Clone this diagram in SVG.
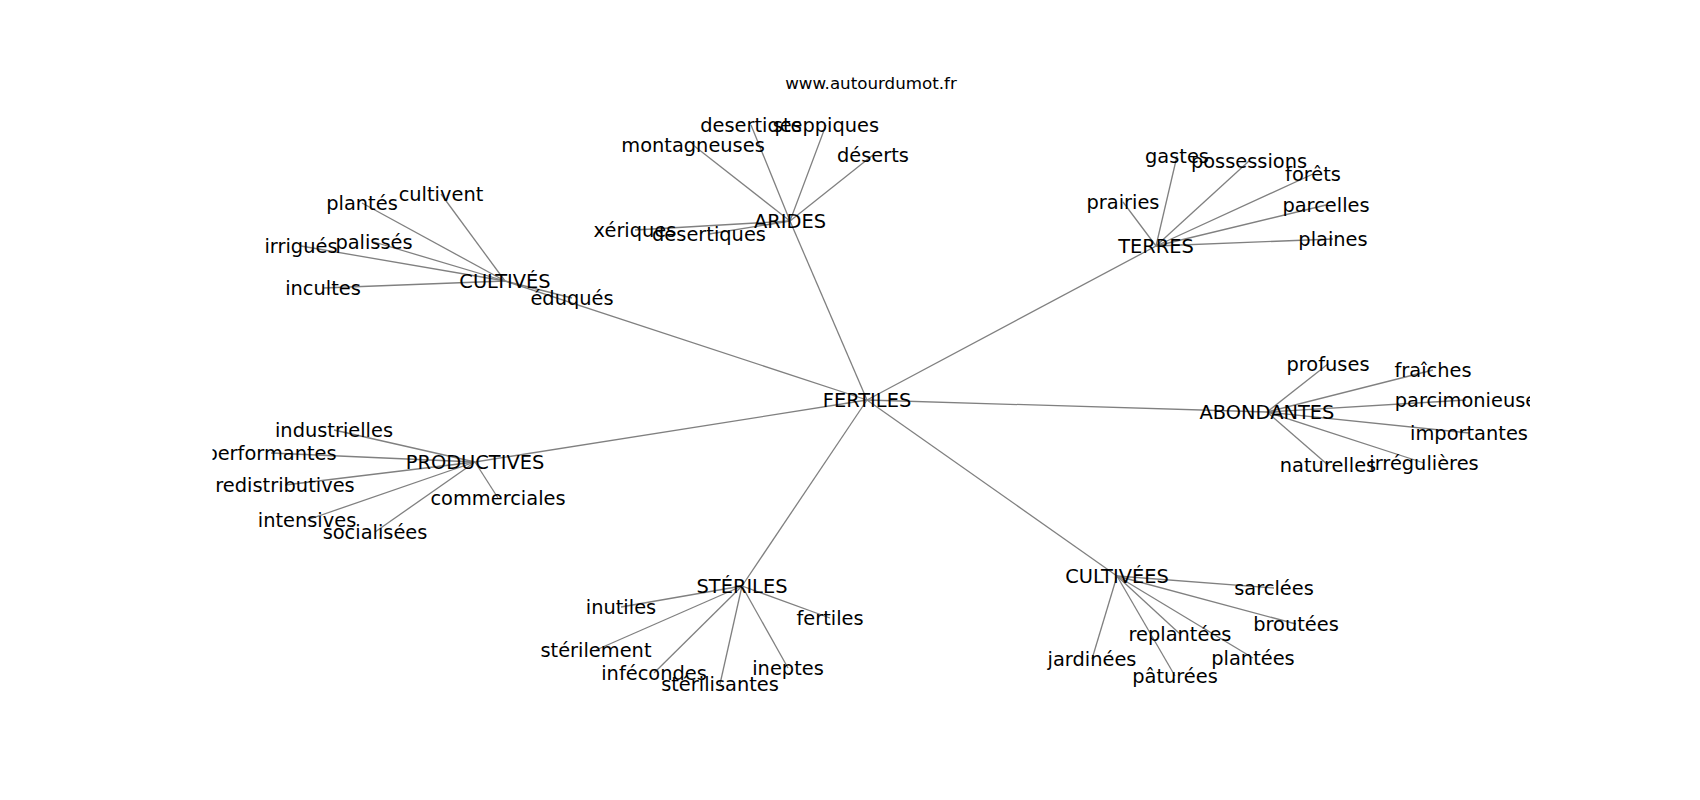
<svg xmlns="http://www.w3.org/2000/svg" width="1700" height="800" viewBox="0 0 1700 800">
<style>
.e{stroke:#808080;stroke-width:1.3;fill:none}
.l{font-family:"DejaVu Sans",sans-serif;font-size:19.4px;fill:#000;text-anchor:middle}
.t{font-family:"DejaVu Sans",sans-serif;font-size:16.7px;fill:#000;text-anchor:middle}
</style>
<defs><clipPath id="ax"><rect x="212.5" y="96" width="1317.5" height="616"/></clipPath></defs>
<rect width="1700" height="800" fill="#fff"/>
<text class="t" x="871" y="88.5">www.autourdumot.fr</text>
<g id="edges" clip-path="url(#ax)">
<line class="e" x1="867" y1="400" x2="790" y2="221"/>
<line class="e" x1="867" y1="400" x2="505" y2="281"/>
<line class="e" x1="867" y1="400" x2="1156" y2="246"/>
<line class="e" x1="867" y1="400" x2="1267" y2="412"/>
<line class="e" x1="867" y1="400" x2="475" y2="462"/>
<line class="e" x1="867" y1="400" x2="742" y2="586"/>
<line class="e" x1="867" y1="400" x2="1117" y2="576"/>
<line class="e" x1="790" y1="221" x2="751" y2="125"/>
<line class="e" x1="790" y1="221" x2="826" y2="125"/>
<line class="e" x1="790" y1="221" x2="693" y2="145"/>
<line class="e" x1="790" y1="221" x2="873" y2="155"/>
<line class="e" x1="790" y1="221" x2="635" y2="230"/>
<line class="e" x1="790" y1="221" x2="709" y2="234"/>
<line class="e" x1="505" y1="281" x2="441" y2="194"/>
<line class="e" x1="505" y1="281" x2="362" y2="203"/>
<line class="e" x1="505" y1="281" x2="374" y2="242"/>
<line class="e" x1="505" y1="281" x2="301" y2="246"/>
<line class="e" x1="505" y1="281" x2="323" y2="288"/>
<line class="e" x1="505" y1="281" x2="572" y2="298"/>
<line class="e" x1="1156" y1="246" x2="1177" y2="156"/>
<line class="e" x1="1156" y1="246" x2="1249" y2="161"/>
<line class="e" x1="1156" y1="246" x2="1313" y2="174"/>
<line class="e" x1="1156" y1="246" x2="1326" y2="205"/>
<line class="e" x1="1156" y1="246" x2="1333" y2="239"/>
<line class="e" x1="1156" y1="246" x2="1123" y2="202"/>
<line class="e" x1="1267" y1="412" x2="1328" y2="364"/>
<line class="e" x1="1267" y1="412" x2="1433" y2="370"/>
<line class="e" x1="1267" y1="412" x2="1466" y2="400"/>
<line class="e" x1="1267" y1="412" x2="1469" y2="433"/>
<line class="e" x1="1267" y1="412" x2="1424" y2="463"/>
<line class="e" x1="1267" y1="412" x2="1328" y2="465"/>
<line class="e" x1="475" y1="462" x2="334" y2="430"/>
<line class="e" x1="475" y1="462" x2="271" y2="453"/>
<line class="e" x1="475" y1="462" x2="285" y2="485"/>
<line class="e" x1="475" y1="462" x2="498" y2="498"/>
<line class="e" x1="475" y1="462" x2="307" y2="520"/>
<line class="e" x1="475" y1="462" x2="375" y2="532"/>
<line class="e" x1="742" y1="586" x2="621" y2="607"/>
<line class="e" x1="742" y1="586" x2="830" y2="618"/>
<line class="e" x1="742" y1="586" x2="596" y2="650"/>
<line class="e" x1="742" y1="586" x2="654" y2="673"/>
<line class="e" x1="742" y1="586" x2="788" y2="668"/>
<line class="e" x1="742" y1="586" x2="720" y2="684"/>
<line class="e" x1="1117" y1="576" x2="1274" y2="588"/>
<line class="e" x1="1117" y1="576" x2="1296" y2="624"/>
<line class="e" x1="1117" y1="576" x2="1180" y2="634"/>
<line class="e" x1="1117" y1="576" x2="1253" y2="658"/>
<line class="e" x1="1117" y1="576" x2="1092" y2="659"/>
<line class="e" x1="1117" y1="576" x2="1175" y2="676"/>
</g>
<g id="nodes" clip-path="url(#ax)">
<g transform="translate(0,1.5)">
<g id="n-fertiles"><text class="l" x="867" y="405">FERTILES</text></g>
<g id="n-arides"><text class="l" x="790" y="226">ARIDES</text></g>
<g id="n-desertiqes"><text class="l" x="751" y="130">desertiqes</text></g>
<g id="n-steppiques"><text class="l" x="826" y="130">steppiques</text></g>
<g id="n-montagneuses"><text class="l" x="693" y="150">montagneuses</text></g>
<g id="n-deserts"><text class="l" x="873" y="160">déserts</text></g>
<g id="n-xeriques"><text class="l" x="635" y="235">xériques</text></g>
<g id="n-desertiques"><text class="l" x="709" y="239">desertiques</text></g>
<g id="n-cultives"><text class="l" x="505" y="286">CULTIVÉS</text></g>
<g id="n-cultivent"><text class="l" x="441" y="199">cultivent</text></g>
<g id="n-plantes"><text class="l" x="362" y="208">plantés</text></g>
<g id="n-palisses"><text class="l" x="374" y="247">palissés</text></g>
<g id="n-irrigues"><text class="l" x="301" y="251">irrigués</text></g>
<g id="n-incultes"><text class="l" x="323" y="293">incultes</text></g>
<g id="n-eduques"><text class="l" x="572" y="303">éduqués</text></g>
<g id="n-terres"><text class="l" x="1156" y="251">TERRES</text></g>
<g id="n-gastes"><text class="l" x="1177" y="161">gastes</text></g>
<g id="n-possessions"><text class="l" x="1249" y="166">possessions</text></g>
<g id="n-forets"><text class="l" x="1313" y="179">forêts</text></g>
<g id="n-parcelles"><text class="l" x="1326" y="210">parcelles</text></g>
<g id="n-plaines"><text class="l" x="1333" y="244">plaines</text></g>
<g id="n-prairies"><text class="l" x="1123" y="207">prairies</text></g>
<g id="n-abondantes"><text class="l" x="1267" y="417">ABONDANTES</text></g>
<g id="n-profuses"><text class="l" x="1328" y="369">profuses</text></g>
<g id="n-fraiches"><text class="l" x="1433" y="375">fraîches</text></g>
<g id="n-parcimonieuse"><text class="l" x="1466" y="405">parcimonieuse</text></g>
<g id="n-importantes"><text class="l" x="1469" y="438">importantes</text></g>
<g id="n-irregulieres"><text class="l" x="1424" y="468">irrégulières</text></g>
<g id="n-naturelles"><text class="l" x="1328" y="470">naturelles</text></g>
<g id="n-productives"><text class="l" x="475" y="467">PRODUCTIVES</text></g>
<g id="n-industrielles"><text class="l" x="334" y="435">industrielles</text></g>
<g id="n-performantes"><text class="l" x="271" y="458">performantes</text></g>
<g id="n-redistributives"><text class="l" x="285" y="490">redistributives</text></g>
<g id="n-commerciales"><text class="l" x="498" y="503">commerciales</text></g>
<g id="n-intensives"><text class="l" x="307" y="525">intensives</text></g>
<g id="n-socialisees"><text class="l" x="375" y="537">socialisées</text></g>
<g id="n-steriles"><text class="l" x="742" y="591">STÉRILES</text></g>
<g id="n-inutiles"><text class="l" x="621" y="612">inutiles</text></g>
<g id="n-fertiles2"><text class="l" x="830" y="623">fertiles</text></g>
<g id="n-sterilement"><text class="l" x="596" y="655">stérilement</text></g>
<g id="n-infecondes"><text class="l" x="654" y="678">infécondes</text></g>
<g id="n-ineptes"><text class="l" x="788" y="673">ineptes</text></g>
<g id="n-sterilisantes"><text class="l" x="720" y="689">stérilisantes</text></g>
<g id="n-cultivees"><text class="l" x="1117" y="581">CULTIVÉES</text></g>
<g id="n-sarclees"><text class="l" x="1274" y="593">sarclées</text></g>
<g id="n-broutees"><text class="l" x="1296" y="629">broutées</text></g>
<g id="n-replantees"><text class="l" x="1180" y="639">replantées</text></g>
<g id="n-plantees"><text class="l" x="1253" y="663">plantées</text></g>
<g id="n-jardinees"><text class="l" x="1092" y="664">jardinées</text></g>
<g id="n-paturees"><text class="l" x="1175" y="681">pâturées</text></g>
</g>
</g>
</svg>
